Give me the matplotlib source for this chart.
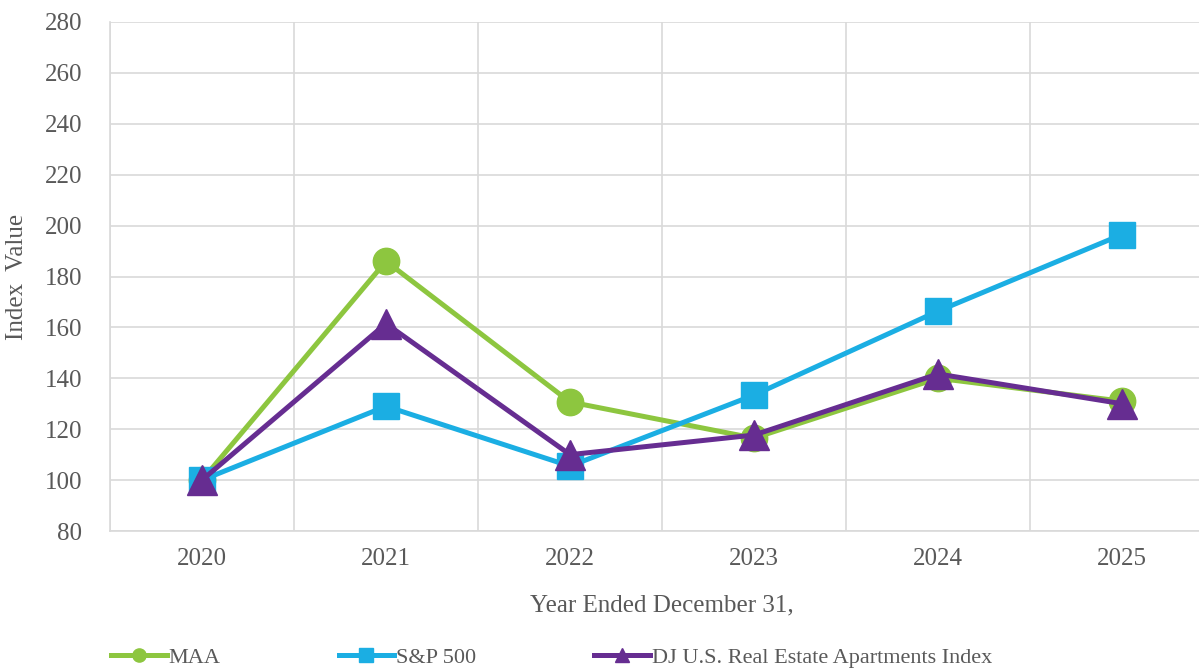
import matplotlib.pyplot as plt
from matplotlib.ticker import MultipleLocator

years = ['2020', '2021', '2022', '2023', '2024', '2025']
maa = [100, 186, 130.7, 116.5, 140, 131]
sp500 = [100, 129, 105.5, 133.4, 166.4, 196.5]
dj_apts = [100, 161.5, 110, 117.7, 141.7, 130]

plt.rcParams['font.family'] = ['Liberation Serif', 'DejaVu Serif']
text_color = '#595959'
grid_color = '#d9d9d9'

fig = plt.figure(figsize=(11.99, 6.69), dpi=100)
ax = fig.add_axes([110 / 1199, 138 / 669, 1104 / 1199, 509 / 669])

x = range(len(years))
ax.plot(x, maa, color='#8DC63F', lw=3.6, marker='o', ms=19, label='MAA')
ax.plot(x, sp500, color='#1BAEE3', lw=3.6, marker='s', ms=19, label='S&P 500')
ax.plot(x, dj_apts, color='#662D91', lw=3.6, marker='^', ms=21,
        label='DJ U.S. Real Estate Apartments Index')

ax.set_ylim(80, 280)
ax.yaxis.set_major_locator(MultipleLocator(20))
ax.set_xlim(-0.5, 5.5)
ax.set_xticks(list(x))
ax.set_xticklabels(years)
ax.set_xticks([i + 0.5 for i in range(-1, 6)], minor=True)

ax.grid(axis='y', which='major', color=grid_color, lw=1.2)
ax.grid(axis='x', which='minor', color=grid_color, lw=1.2)
ax.set_axisbelow(True)
for s in ['top', 'right']:
    ax.spines[s].set_visible(False)
for s in ['left', 'bottom']:
    ax.spines[s].set_color(grid_color)
    ax.spines[s].set_linewidth(1.2)

ax.tick_params(axis='y', length=0, pad=20, labelsize=18, labelcolor=text_color)
ax.tick_params(axis='x', which='both', length=0, pad=12, labelsize=18,
               labelcolor=text_color)

ax.set_ylabel('Index  Value', fontsize=18, color=text_color, labelpad=12)
ax.set_xlabel('Year Ended December 31,', fontsize=18, color=text_color, labelpad=18)

fig.legend(loc='lower left', bbox_to_anchor=(111 / 1199, 0.002), ncol=3,
           frameon=False, fontsize=16, handlelength=2.5, handletextpad=0.1,
           columnspacing=5.3, markerscale=0.5, labelcolor=text_color,
           borderaxespad=0.0, borderpad=0.0)

fig.savefig('out.png', dpi=100)
